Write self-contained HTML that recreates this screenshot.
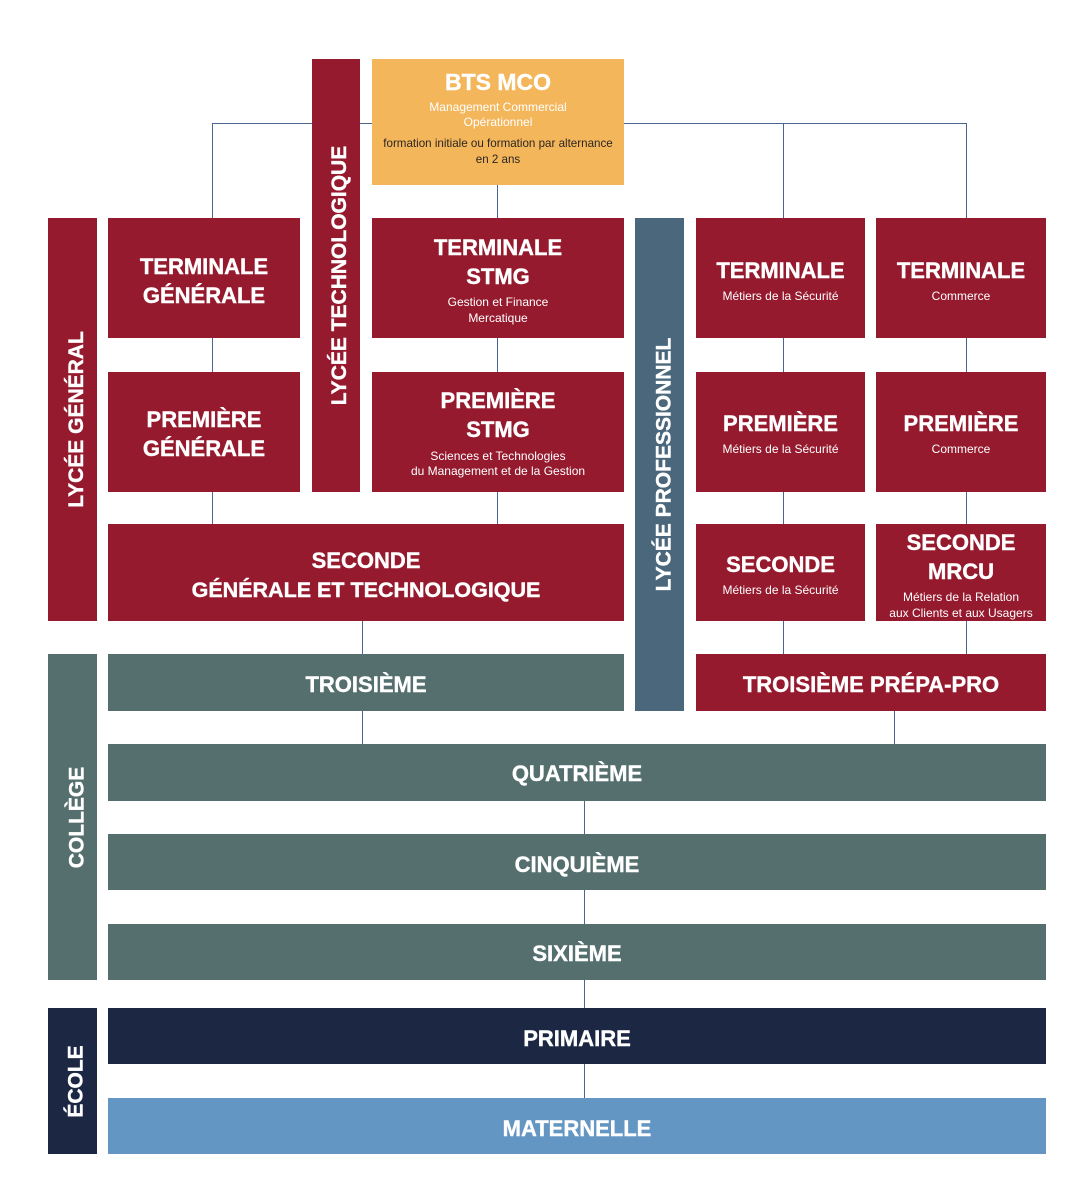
<!DOCTYPE html>
<html>
<head>
<meta charset="utf-8">
<style>
  html,body{margin:0;padding:0;background:#fff;}
  body{width:1091px;height:1192px;position:relative;overflow:hidden;font-family:"Liberation Sans",Arial,sans-serif;}
  .b{position:absolute;}
  .red{background:#951a2e;}
  .org{background:#f3b65b;}
  .lp{background:#4b677c;}
  .col{background:#546f6e;}
  .nav{background:#1c2743;}
  .lb{background:#6496c4;}
  .ln{position:absolute;background:#4a6690;}
  .v{width:1.5px;}
  .h{height:1.5px;}
  .t{position:absolute;text-align:center;white-space:nowrap;color:#fff;}
  .T{font-weight:bold;font-size:22px;height:30px;line-height:30px;-webkit-text-stroke:0.4px #fff;}
  .S{font-size:12px;height:16px;line-height:16px;}
  .vt{position:absolute;display:flex;align-items:center;justify-content:center;}
  .vt span{display:block;position:relative;left:4px;line-height:1;transform:rotate(-90deg);white-space:nowrap;color:#fff;font-weight:bold;font-size:21px;-webkit-text-stroke:0.4px #fff;}
</style>
</head>
<body>
<!-- connector lines -->
<div class="ln h" style="left:212px;top:122.5px;width:755px;"></div>
<div class="ln v" style="left:211.5px;top:123px;height:95px;"></div>
<div class="ln v" style="left:782.5px;top:123px;height:95px;"></div>
<div class="ln v" style="left:965.5px;top:123px;height:95px;"></div>
<div class="ln v" style="left:496.5px;top:185px;height:33px;"></div>

<div class="ln v" style="left:211.5px;top:338px;height:34px;"></div>
<div class="ln v" style="left:496.5px;top:338px;height:34px;"></div>
<div class="ln v" style="left:782.5px;top:338px;height:34px;"></div>
<div class="ln v" style="left:965.5px;top:338px;height:34px;"></div>

<div class="ln v" style="left:211.5px;top:492px;height:32px;"></div>
<div class="ln v" style="left:496.5px;top:492px;height:32px;"></div>
<div class="ln v" style="left:782.5px;top:492px;height:32px;"></div>
<div class="ln v" style="left:965.5px;top:492px;height:32px;"></div>

<div class="ln v" style="left:361.5px;top:621px;height:33px;"></div>
<div class="ln v" style="left:782.5px;top:621px;height:33px;"></div>
<div class="ln v" style="left:965.5px;top:621px;height:33px;"></div>

<div class="ln v" style="left:361.5px;top:711px;height:33px;"></div>
<div class="ln v" style="left:893.5px;top:711px;height:33px;"></div>

<div class="ln v" style="left:583.5px;top:801px;height:33px;"></div>
<div class="ln v" style="left:583.5px;top:890px;height:34px;"></div>
<div class="ln v" style="left:583.5px;top:980px;height:28px;"></div>
<div class="ln v" style="left:583.5px;top:1064px;height:34px;"></div>

<!-- side bars -->
<div class="b red vt" style="left:48px;top:218px;width:49px;height:403px;"><span>LYCÉE GÉNÉRAL</span></div>
<div class="b red vt" style="left:312px;top:59px;width:48px;height:433px;"><span>LYCÉE TECHNOLOGIQUE</span></div>
<div class="b lp vt" style="left:635px;top:218px;width:49px;height:493px;"><span>LYCÉE PROFESSIONNEL</span></div>
<div class="b col vt" style="left:48px;top:654px;width:49px;height:326px;"><span>COLLÈGE</span></div>
<div class="b nav vt" style="left:48px;top:1008px;width:49px;height:146px;"><span>ÉCOLE</span></div>

<!-- BTS -->
<div class="b org" style="left:372px;top:59px;width:252px;height:126px;"></div>
<div class="t" style="left:372px;width:252px;top:66px;height:32px;line-height:32px;font-weight:bold;font-size:23px;-webkit-text-stroke:0.4px #fff;">BTS MCO</div>
<div class="t S" style="left:372px;width:252px;top:99px;">Management Commercial</div>
<div class="t S" style="left:372px;width:252px;top:114px;">Opérationnel</div>
<div class="t" style="left:372px;width:252px;top:136px;height:16px;line-height:16px;font-size:11.6px;color:#2b2521;">formation initiale ou formation par alternance</div>
<div class="t" style="left:372px;width:252px;top:152px;height:16px;line-height:16px;font-size:11.6px;color:#2b2521;">en 2 ans</div>

<!-- Row 1 -->
<div class="b red" style="left:108px;top:218px;width:192px;height:120px;"></div>
<div class="t T" style="left:108px;width:192px;top:252px;">TERMINALE</div>
<div class="t T" style="left:108px;width:192px;top:281px;">GÉNÉRALE</div>

<div class="b red" style="left:372px;top:218px;width:252px;height:120px;"></div>
<div class="t T" style="left:372px;width:252px;top:233px;">TERMINALE</div>
<div class="t T" style="left:372px;width:252px;top:262px;">STMG</div>
<div class="t S" style="left:372px;width:252px;top:294px;">Gestion et Finance</div>
<div class="t S" style="left:372px;width:252px;top:310px;">Mercatique</div>

<div class="b red" style="left:696px;top:218px;width:169px;height:120px;"></div>
<div class="t T" style="left:696px;width:169px;top:256px;">TERMINALE</div>
<div class="t S" style="left:696px;width:169px;top:288px;">Métiers de la Sécurité</div>

<div class="b red" style="left:876px;top:218px;width:170px;height:120px;"></div>
<div class="t T" style="left:876px;width:170px;top:256px;">TERMINALE</div>
<div class="t S" style="left:876px;width:170px;top:288px;">Commerce</div>

<!-- Row 2 -->
<div class="b red" style="left:108px;top:372px;width:192px;height:120px;"></div>
<div class="t T" style="left:108px;width:192px;top:405px;">PREMIÈRE</div>
<div class="t T" style="left:108px;width:192px;top:434px;">GÉNÉRALE</div>

<div class="b red" style="left:372px;top:372px;width:252px;height:120px;"></div>
<div class="t T" style="left:372px;width:252px;top:386px;">PREMIÈRE</div>
<div class="t T" style="left:372px;width:252px;top:415px;">STMG</div>
<div class="t S" style="left:372px;width:252px;top:448px;">Sciences et Technologies</div>
<div class="t S" style="left:372px;width:252px;top:463px;">du Management et de la Gestion</div>

<div class="b red" style="left:696px;top:372px;width:169px;height:120px;"></div>
<div class="t T" style="left:696px;width:169px;top:409px;">PREMIÈRE</div>
<div class="t S" style="left:696px;width:169px;top:441px;">Métiers de la Sécurité</div>

<div class="b red" style="left:876px;top:372px;width:170px;height:120px;"></div>
<div class="t T" style="left:876px;width:170px;top:409px;">PREMIÈRE</div>
<div class="t S" style="left:876px;width:170px;top:441px;">Commerce</div>

<!-- Row 3 -->
<div class="b red" style="left:108px;top:524px;width:516px;height:97px;"></div>
<div class="t T" style="left:108px;width:516px;top:546px;">SECONDE</div>
<div class="t T" style="left:108px;width:516px;top:575px;font-size:21.5px;">GÉNÉRALE ET TECHNOLOGIQUE</div>

<div class="b red" style="left:696px;top:524px;width:169px;height:97px;"></div>
<div class="t T" style="left:696px;width:169px;top:550px;">SECONDE</div>
<div class="t S" style="left:696px;width:169px;top:582px;">Métiers de la Sécurité</div>

<div class="b red" style="left:876px;top:524px;width:170px;height:97px;"></div>
<div class="t T" style="left:876px;width:170px;top:528px;">SECONDE</div>
<div class="t T" style="left:876px;width:170px;top:557px;">MRCU</div>
<div class="t S" style="left:876px;width:170px;top:589px;">Métiers de la Relation</div>
<div class="t S" style="left:876px;width:170px;top:605px;">aux Clients et aux Usagers</div>

<!-- Troisième -->
<div class="b col" style="left:108px;top:654px;width:516px;height:57px;"></div>
<div class="t T" style="left:108px;width:516px;top:670px;">TROISIÈME</div>

<div class="b red" style="left:696px;top:654px;width:350px;height:57px;"></div>
<div class="t T" style="left:696px;width:350px;top:670px;">TROISIÈME PRÉPA-PRO</div>

<!-- Collège -->
<div class="b col" style="left:108px;top:744px;width:938px;height:57px;"></div>
<div class="t T" style="left:108px;width:938px;top:759px;">QUATRIÈME</div>

<div class="b col" style="left:108px;top:834px;width:938px;height:56px;"></div>
<div class="t T" style="left:108px;width:938px;top:850px;">CINQUIÈME</div>

<div class="b col" style="left:108px;top:924px;width:938px;height:56px;"></div>
<div class="t T" style="left:108px;width:938px;top:939px;">SIXIÈME</div>

<!-- École -->
<div class="b nav" style="left:108px;top:1008px;width:938px;height:56px;"></div>
<div class="t T" style="left:108px;width:938px;top:1024px;">PRIMAIRE</div>

<div class="b lb" style="left:108px;top:1098px;width:938px;height:56px;"></div>
<div class="t T" style="left:108px;width:938px;top:1114px;">MATERNELLE</div>
</body>
</html>
